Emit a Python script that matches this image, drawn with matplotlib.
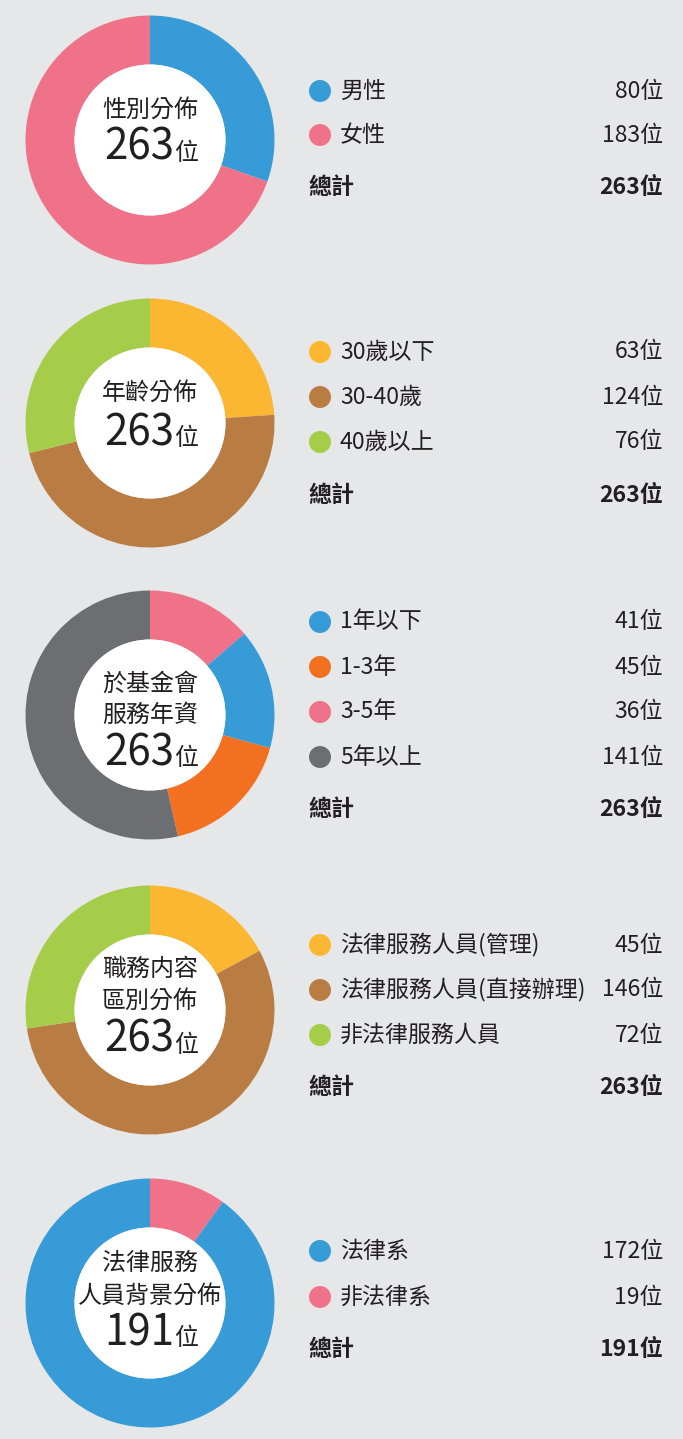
import numpy as np
import matplotlib
matplotlib.use("Agg")
import matplotlib.pyplot as plt
from matplotlib.patches import Circle

plt.rcParams['font.family'] = ['Noto Sans CJK TC', 'DejaVu Sans']

W, H = 683, 1439
BG = '#e6e7e9'
TXT = '#231f20'
BLUE = '#369bd6'
PINK = '#f07289'
YELLOW = '#fbb731'
BROWN = '#b97d44'
GREEN = '#a6cd4a'
ORANGE = '#f37021'
GRAY = '#6d6e71'

# data
gender_labels = ['男性', '女性']
gender_values = [80, 183]
gender_colors = [BLUE, PINK]

age_labels = ['30歲以下', '30-40歲', '40歲以上']
age_values = [63, 124, 76]
age_colors = [YELLOW, BROWN, GREEN]

tenure_labels = ['1年以下', '1-3年', '3-5年', '5年以上']
tenure_values = [41, 45, 36, 141]
tenure_colors = [BLUE, ORANGE, PINK, GRAY]
tenure_pie_order = [2, 0, 1, 3]

job_labels = ['法律服務人員(管理)', '法律服務人員(直接辦理)', '非法律服務人員']
job_values = [45, 146, 72]
job_colors = [YELLOW, BROWN, GREEN]

bg_labels = ['法律系', '非法律系']
bg_values = [172, 19]
bg_colors = [BLUE, PINK]
bg_pie_order = [1, 0]

# layout (pixel rows, from top)
charts = [
    dict(title=['性別分佈'], total=263, labels=gender_labels, values=gender_values,
         colors=gender_colors, order=[0, 1], cy=140, ty=[110], base=160,
         rows=[91, 135], trow=188),
    dict(title=['年齡分佈'], total=263, labels=age_labels, values=age_values,
         colors=age_colors, order=[0, 1, 2], cy=423, ty=[393], base=445,
         rows=[352, 397, 442], trow=495),
    dict(title=['於基金會', '服務年資'], total=263, labels=tenure_labels, values=tenure_values,
         colors=tenure_colors, order=tenure_pie_order, cy=715, ty=[684, 715], base=765,
         rows=[622, 667, 712, 757], trow=810),
    dict(title=['職務内容', '區別分佈'], total=263, labels=job_labels, values=job_values,
         colors=job_colors, order=[0, 1, 2], cy=1010, ty=[969, 1001], base=1052,
         rows=[945, 990, 1035], trow=1088),
    dict(title=['法律服務', '人員背景分佈'], total=191, labels=bg_labels, values=bg_values,
         colors=bg_colors, order=bg_pie_order, cy=1303, ty=[1263, 1296], base=1345,
         rows=[1251, 1297], trow=1350),
]

def pt(px):
    return px * 72 / 100

fig = plt.figure(figsize=(W / 100, H / 100), dpi=100, facecolor=BG)
ax = fig.add_axes([0, 0, 1, 1])
ax.set_facecolor(BG)

cx = 150
R = 124.5
r_in = 75.5

for c in charts:
    cy = H - c['cy']
    vals = [c['values'][i] for i in c['order']]
    cols = [c['colors'][i] for i in c['order']]
    ax.pie(vals, colors=cols, center=(cx, cy), radius=R, startangle=90,
           counterclock=False, wedgeprops=dict(width=R - r_in, linewidth=0),
           frame=True)
    ax.add_patch(Circle((cx, cy), r_in, facecolor='white', edgecolor='none', zorder=3))

    # center text
    for t, yy in zip(c['title'], c['ty']):
        ax.text(cx, H - yy, t, ha='center', va='center', fontsize=pt(24),
                color=TXT, zorder=4)
    ax.text(cx + 24, H - c['base'], str(c['total']), ha='right', va='baseline',
            fontsize=pt(42), color=TXT, zorder=4)
    ax.text(cx + 24, H - c['base'], '位', ha='left', va='baseline',
            fontsize=pt(24), color=TXT, zorder=4)

    # legend
    for lab, v, col, yy in zip(c['labels'], c['values'], c['colors'], c['rows']):
        ax.add_patch(Circle((320, H - yy), 11, facecolor=col, edgecolor='none'))
        ax.text(340, H - yy, lab, ha='left', va='center', fontsize=pt(23),
                fontweight='light', color=TXT)
        ax.text(663, H - yy, f'{v}位', ha='right', va='center', fontsize=pt(23),
                fontweight='light', color=TXT)
    ax.text(308, H - c['trow'], '總計', ha='left', va='center', fontsize=pt(23),
            fontweight='bold', color=TXT)
    ax.text(663, H - c['trow'], f'{sum(c["values"])}位', ha='right', va='center',
            fontsize=pt(23), fontweight='bold', color=TXT)

ax.set_xlim(0, W)
ax.set_ylim(0, H)
ax.set_aspect('equal')
ax.axis('off')
fig.savefig('out.png', dpi=100, facecolor=BG)
